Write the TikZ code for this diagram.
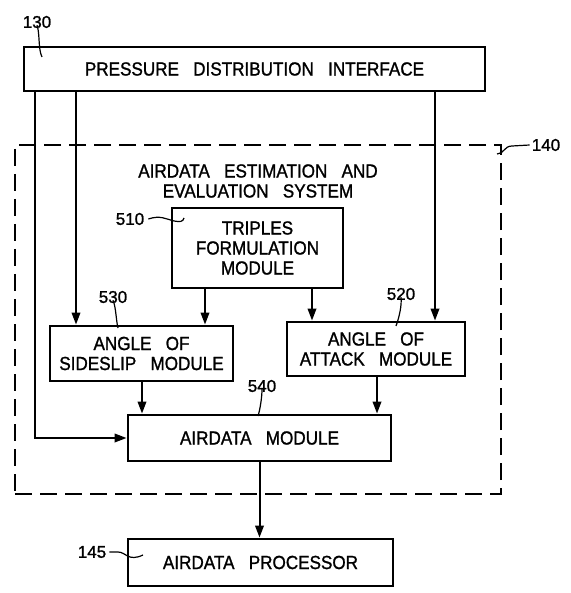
\documentclass[tikz,border=0pt]{standalone}
\usepackage{fontspec}
\setmainfont{Liberation Sans}[FakeStretch=0.9,WordSpace=3,FakeBold=1.2]
\newfontfamily\numfont{Liberation Sans}[FakeBold=1.2]
\usetikzlibrary{arrows.meta}
\begin{document}
\begin{tikzpicture}[x=1pt,y=-1pt,
  box/.style={draw, line width=2.8pt, inner sep=0pt, align=center,
    font=\fontsize{19}{20}\selectfont},
  sysbox/.style={draw, line width=2.6pt, dash pattern=on 17pt off 8pt, inner sep=0pt},
  txt/.style={align=center, inner sep=0pt, font=\fontsize{19}{20}\selectfont},
  arr/.style={line width=2pt, -{Triangle[length=12pt,width=8.5pt]}},
  lead/.style={line width=1.2pt},
  num/.style={inner sep=0pt, font=\numfont\fontsize{17}{17}\selectfont}]
\useasboundingbox (0,0) rectangle (570,593);
% boxes
\node[box, minimum width=461pt, minimum height=44pt] (pdi) at (254.5,69) {PRESSURE DISTRIBUTION INTERFACE};
\node[sysbox, minimum width=486pt, minimum height=349pt] (sys) at (258,319.5) {};
\node[txt] (systitle) at (258,181) {AIRDATA ESTIMATION AND\\EVALUATION SYSTEM};
\node[box, minimum width=171pt, minimum height=80pt] (tfm) at (257.5,248) {TRIPLES\\FORMULATION\\MODULE};
\node[box, minimum width=183pt, minimum height=55pt] (aos) at (141.5,353.5) {ANGLE OF\\SIDESLIP MODULE};
\node[box, minimum width=178pt, minimum height=54pt] (aoa) at (376,349) {ANGLE OF\\ATTACK MODULE};
\node[box, minimum width=263pt, minimum height=46pt] (adm) at (259.5,438) {AIRDATA MODULE};
\node[box, minimum width=265pt, minimum height=47pt] (adp) at (260.5,562.5) {AIRDATA PROCESSOR};
% x positions of vertical connectors
\coordinate (xa) at (35,0);
\coordinate (xb) at (76,0);
\coordinate (xc) at (435,0);
\coordinate (xd) at (205,0);
\coordinate (xe) at (312,0);
\coordinate (xf) at (142,0);
\coordinate (xg) at (377,0);
% connectors
\draw[arr] (pdi.south -| xa) |- (adm.west);
\draw[arr] (pdi.south -| xb) -- (aos.north -| xb);
\draw[arr] (pdi.south -| xc) -- (aoa.north -| xc);
\draw[arr] (tfm.south -| xd) -- (aos.north -| xd);
\draw[arr] (tfm.south -| xe) -- (aoa.north -| xe);
\draw[arr] (aos.south -| xf) -- (adm.north -| xf);
\draw[arr] (aoa.south -| xg) -- (adm.north -| xg);
\draw[arr] (adm.south) -- (adm.south |- adp.north);
% reference numerals
\node[num] (l130) at (37,22) {130};
\node[num] (l140) at (546,145) {140};
\node[num] (l510) at (130,219) {510};
\node[num] (l530) at (113,297) {530};
\node[num] (l520) at (401,294) {520};
\node[num] (l540) at (262,386) {540};
\node[num] (l145) at (92,552) {145};
\coordinate (e130) at (42,57);
\coordinate (e140) at (497,154);
\coordinate (e510) at (184,218);
\coordinate (e530) at (118,328);
\coordinate (e520) at (396,326);
\coordinate (e540) at (258,416);
\coordinate (e145) at (143,555);
\draw[lead] ([yshift=3pt]l130.south) .. controls +(3,8) and +(-4,-8) .. (e130);
\draw[lead] ([xshift=-2pt]l140.west) -- (512,146) .. controls (504,146) and (504,154) .. (e140);
\draw[lead] ([xshift=4pt]l510.east) .. controls (160,215) and (166,219) .. (174,221) .. controls (180,222) and (183,222) .. (e510);
\draw[lead] ([yshift=3pt]l530.south) .. controls +(3,7) and +(-2,-8) .. (e530);
\draw[lead] ([yshift=3pt]l520.south) .. controls +(1,8) and +(3,-8) .. (e520);
\draw[lead] ([yshift=3pt]l540.south) .. controls +(0,8) and +(2,-6) .. (e540);
\draw[lead] ([xshift=3pt]l145.east) -- (118,552) .. controls (126,552) and (128,562) .. (e145);
\end{tikzpicture}
\end{document}
